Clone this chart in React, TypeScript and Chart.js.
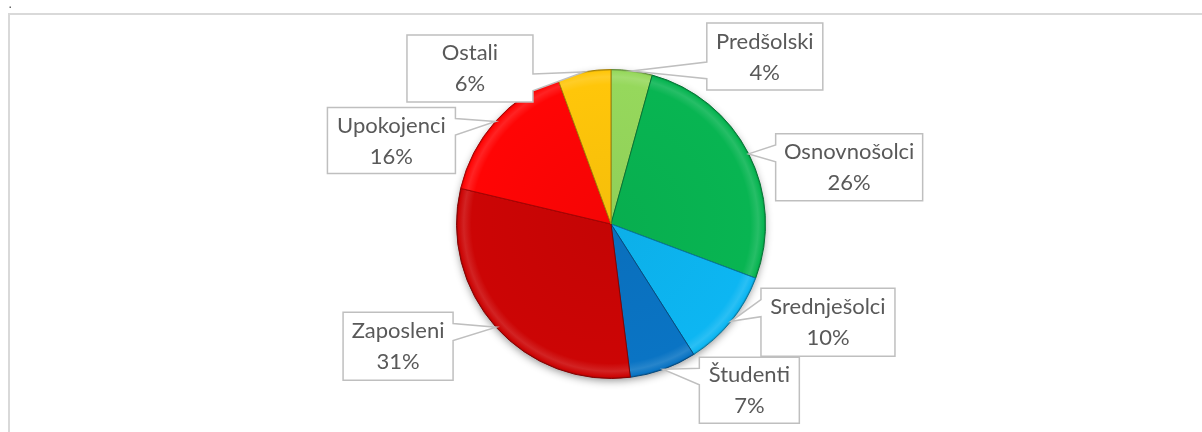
import { useEffect, useRef } from "react";
import { Chart, registerables } from "chart.js";

Chart.register(...registerables);

// ---- data ----
const categories = ["Predšolski", "Osnovnošolci", "Srednješolci", "Študenti", "Zaposleni", "Upokojenci", "Ostali"];
const shares = [4.3, 26.4, 10.3, 7.0, 30.7, 15.7, 5.6];
const sliceColors = ["#96D85C", "#08B552", "#0DB6F2", "#0A74C4", "#CC0505", "#FF0505", "#FFC60A"];

// ---- label callout layout (offset of box top-left from the slice's rim point, box size) ----
const labelDx = [75, 27, 30, 36, -153, -168, -177];
const labelDy = [-48, -20, -33, -12, -15, -14, -37];
const labelW = [116, 147, 134, 100, 110, 128, 126];
const labelH = [67, 67, 68, 66, 68, 66, 67];

const FONT = "Lato, 'Open Sans', sans-serif";

function shade(hex: string, amt: number): string {
  const n = parseInt(hex.slice(1), 16);
  let r = (n >> 16) & 255, g = (n >> 8) & 255, b = n & 255;
  if (amt >= 0) {
    r = r + (255 - r) * amt; g = g + (255 - g) * amt; b = b + (255 - b) * amt;
  } else {
    r = r * (1 + amt); g = g * (1 + amt); b = b * (1 + amt);
  }
  return `rgb(${Math.round(r)},${Math.round(g)},${Math.round(b)})`;
}

function calloutPath(ctx: CanvasRenderingContext2D, x: number, y: number, w: number, h: number, tx: number, ty: number) {
  const hc = x + w / 2, vc = y + h / 2;
  const dxPos = tx - hc, dyPos = ty - vc;
  const dq = (dxPos * h) / w;
  const dz = Math.abs(dyPos) - Math.abs(dq);
  const xg1 = dxPos > 0 ? 7 : 2, xg2 = dxPos > 0 ? 10 : 5;
  const yg1 = dyPos > 0 ? 7 : 2, yg2 = dyPos > 0 ? 10 : 5;
  const x1 = x + (w * xg1) / 12, x2 = x + (w * xg2) / 12;
  const y1 = y + (h * yg1) / 12, y2 = y + (h * yg2) / 12;
  const inside = tx >= x && tx <= x + w && ty >= y && ty <= y + h;
  ctx.beginPath();
  ctx.moveTo(x, y);
  if (!inside && dz > 0 && dyPos < 0) { ctx.lineTo(x1, y); ctx.lineTo(tx, ty); ctx.lineTo(x2, y); }
  ctx.lineTo(x + w, y);
  if (!inside && dz <= 0 && dxPos > 0) { ctx.lineTo(x + w, y1); ctx.lineTo(tx, ty); ctx.lineTo(x + w, y2); }
  ctx.lineTo(x + w, y + h);
  if (!inside && dz > 0 && dyPos > 0) { ctx.lineTo(x2, y + h); ctx.lineTo(tx, ty); ctx.lineTo(x1, y + h); }
  ctx.lineTo(x, y + h);
  if (!inside && dz <= 0 && dxPos < 0) { ctx.lineTo(x, y2); ctx.lineTo(tx, ty); ctx.lineTo(x, y1); }
  ctx.closePath();
}

const framePlugin = {
  id: "frame",
  beforeDraw(chart: any) {
    const ctx = chart.ctx as CanvasRenderingContext2D;
    ctx.save();
    ctx.fillStyle = "#ffffff";
    ctx.fillRect(0, 0, chart.width, chart.height);
    ctx.strokeStyle = "#d9d9d9";
    ctx.lineWidth = 2;
    ctx.strokeRect(9, 14, chart.width + 40, chart.height + 40);
    ctx.fillStyle = "#666666";
    ctx.fillRect(9.5, 6.5, 1.5, 1.5);
    ctx.restore();
  },
};

const shadowPlugin = {
  id: "pieShadow",
  beforeDatasetsDraw(chart: any) {
    const meta = chart.getDatasetMeta(0);
    if (!meta.data.length) return;
    const a = meta.data[0].getProps(["x", "y", "outerRadius"], true);
    const ctx = chart.ctx as CanvasRenderingContext2D;
    ctx.save();
    ctx.shadowColor = "rgba(0,0,0,0.45)";
    ctx.shadowBlur = 9;
    ctx.shadowOffsetY = 3;
    ctx.fillStyle = "#777";
    ctx.beginPath();
    ctx.arc(a.x, a.y, a.outerRadius - 1, 0, Math.PI * 2);
    ctx.fill();
    ctx.restore();
  },
};

const calloutPlugin = {
  id: "callouts",
  afterDatasetsDraw(chart: any) {
    const meta = chart.getDatasetMeta(0);
    const data = chart.data.datasets[0].data as number[];
    const total = data.reduce((s, v) => s + v, 0);
    const ctx = chart.ctx as CanvasRenderingContext2D;
    ctx.save();
    meta.data.forEach((arc: any, i: number) => {
      const p = arc.getProps(["x", "y", "startAngle", "endAngle", "outerRadius"], true);
      const mid = (p.startAngle + p.endAngle) / 2;
      const tx = p.x + Math.cos(mid) * p.outerRadius;
      const ty = p.y + Math.sin(mid) * p.outerRadius;
      const bx = tx + labelDx[i], by = ty + labelDy[i];
      const w = labelW[i], h = labelH[i];
      calloutPath(ctx, bx, by, w, h, tx, ty);
      ctx.fillStyle = "#ffffff";
      ctx.fill();
      ctx.strokeStyle = "#bfbfbf";
      ctx.lineWidth = 1.5;
      ctx.lineJoin = "miter";
      ctx.stroke();
      ctx.fillStyle = "#595959";
      ctx.font = `22px ${FONT}`;
      ctx.textAlign = "center";
      ctx.textBaseline = "middle";
      const cx = bx + w / 2, cy = by + h / 2;
      ctx.fillText(chart.data.labels[i], cx, cy - 15);
      ctx.fillText(Math.round((data[i] / total) * 100) + "%", cx, cy + 16);
    });
    ctx.restore();
  },
};

export default function App() {
  const ref = useRef<HTMLCanvasElement | null>(null);
  useEffect(() => {
    if (!ref.current) return;
    const chart = new Chart(ref.current, {
      type: "pie",
      data: {
        labels: categories,
        datasets: [
          {
            data: shares,
            backgroundColor: (c: any) => {
              const base = sliceColors[c.dataIndex] || "#999";
              const ch = c.chart;
              const area = ch.chartArea;
              if (!area) return base;
              const cx = (area.left + area.right) / 2;
              const cy = (area.top + area.bottom) / 2;
              const r = Math.min(area.right - area.left, area.bottom - area.top) / 2;
              const g = ch.ctx.createRadialGradient(cx, cy, 0, cx, cy, r);
              g.addColorStop(0, shade(base, -0.04));
              g.addColorStop(0.9, base);
              g.addColorStop(0.95, shade(base, 0.12));
              g.addColorStop(0.985, base);
              g.addColorStop(1, shade(base, -0.3));
              return g;
            },
            borderColor: sliceColors.map((c) => shade(c, -0.35)),
            borderWidth: 1,
            hoverOffset: 0,
            offset: 0,
          },
        ],
      },
      options: {
        animation: false,
        responsive: false,
        devicePixelRatio: 1,
        layout: { padding: { top: 69, bottom: 53, left: 20, right: 0 } },
        plugins: {
          legend: { display: false },
          tooltip: { enabled: false },
        },
        events: [],
      },
      plugins: [framePlugin, shadowPlugin, calloutPlugin],
    });
    return () => chart.destroy();
  }, []);
  return (
    <div style={{ position: "fixed", left: 0, top: 0, width: 1202, height: 432 }}>
      <canvas ref={ref} width={1202} height={432} style={{ display: "block" }} />
    </div>
  );
}
